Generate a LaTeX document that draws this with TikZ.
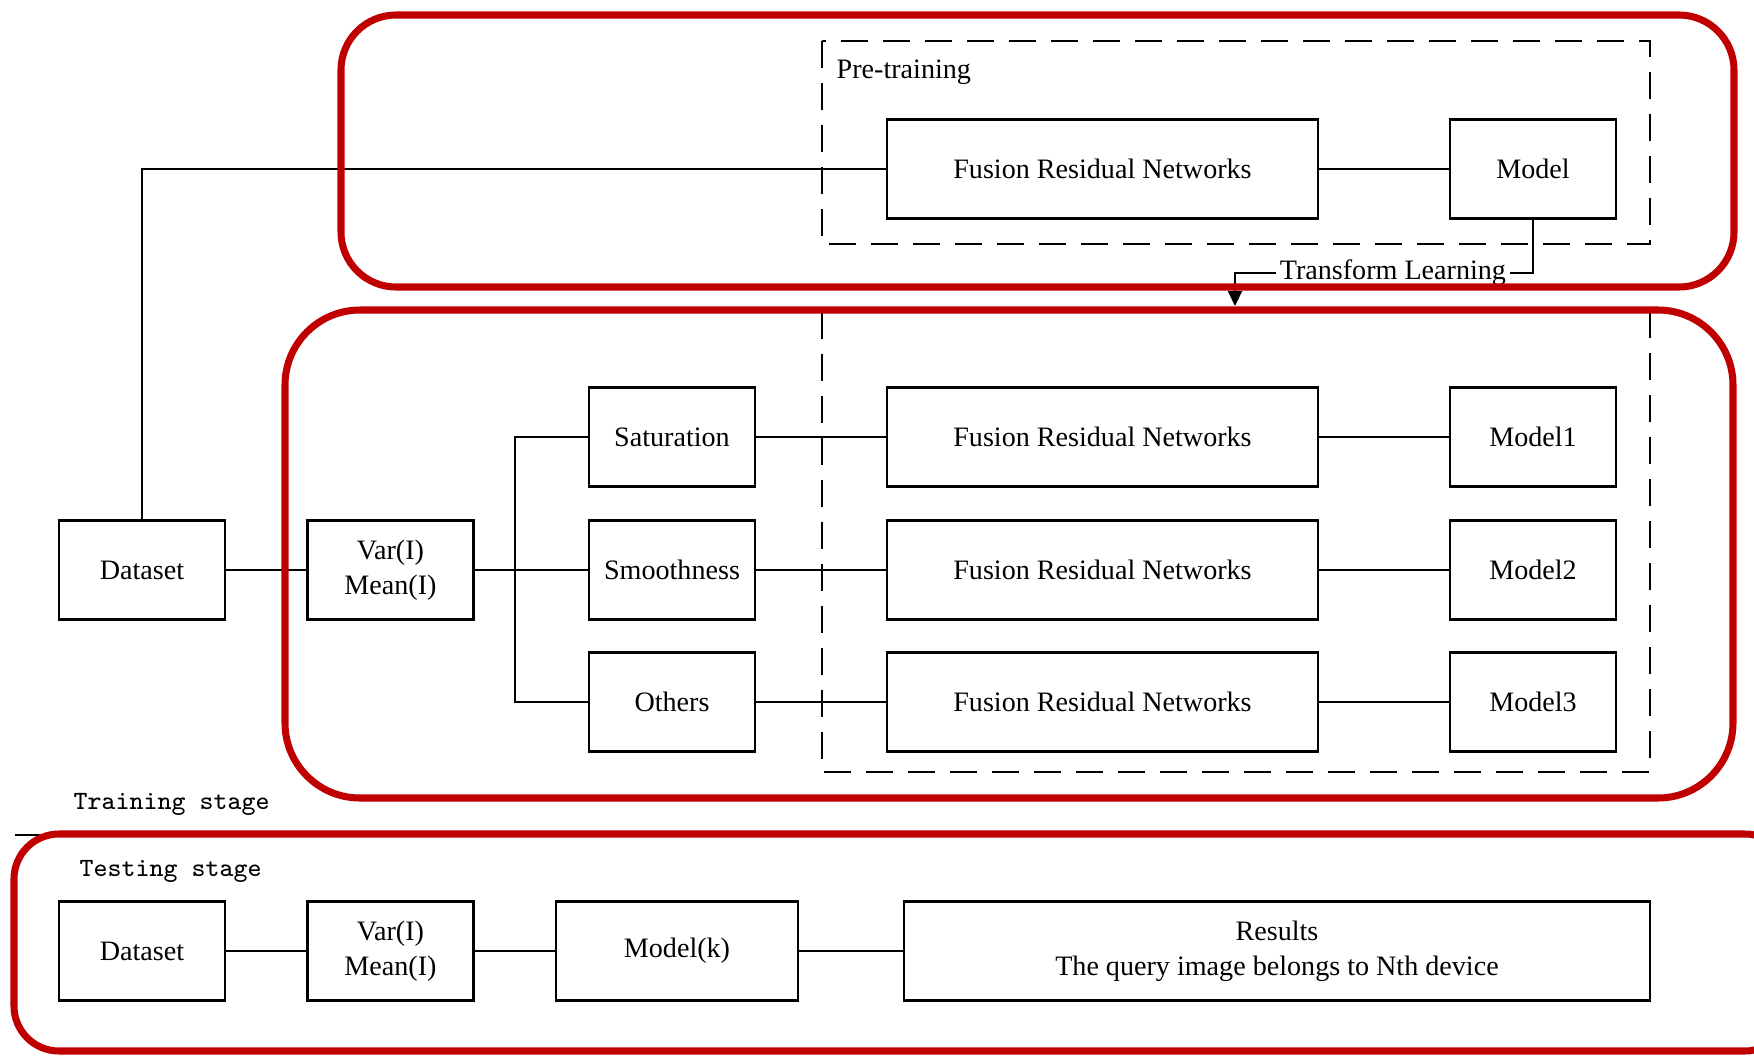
\documentclass[tikz,border=0pt]{standalone}
\usepackage{fontspec}
\setmainfont{Liberation Serif}
\usetikzlibrary{arrows.meta,positioning}
\definecolor{redline}{RGB}{192,0,0}
\tikzset{
  blk/.style={draw,line width=0.6pt,minimum width=16.6mm,minimum height=9.9mm,
    align=center,inner sep=1pt,font=\fontsize{8}{10}\selectfont},
  wide/.style={blk,minimum width=43.1mm},
  link/.style={line width=0.6pt},
  group/.style={draw,dash pattern=on 2.7mm off 1.5mm,line width=0.75pt},
  frame/.style={draw=redline,line width=2pt,rounded corners=#1},
  stage/.style={font=\ttfamily\fontsize{7.5}{9}\selectfont,anchor=base west,inner sep=0pt},
  tag/.style={font=\fontsize{8}{10}\selectfont,inner sep=0pt}
}

\begin{document}
\begin{tikzpicture}
  \useasboundingbox (0,0) rectangle (17.54,-10.56);
  % pre-training
  \draw[group] (8.22,-0.41) rectangle (16.50,-2.44);
  \node[tag,anchor=base west] (pt) at (8.36,-0.78) {Pre-training};
  \node[wide] (f0) at (11.025,-1.69) {Fusion Residual Networks};
  \node[blk] (m0) at (15.33,-1.69) {Model};
  \draw[link] (f0) -- (m0);
  % training
  \node[blk] (ds) at (1.42,-5.70) {Dataset};
  \node[blk] (vm) at (3.905,-5.70) {Var(I)\\Mean(I)};
  \draw[link] (ds.north) |- (f0.west);
  \draw[link] (ds) -- (vm);
  \draw[group] (8.22,-3.12) rectangle (16.50,-7.72);
  \coordinate (br) at (5.15,-5.70);
  \foreach \i/\y/\t in {1/4.37/Saturation,2/5.70/Smoothness,3/7.02/Others} {
    \node[blk] (c\i) at (6.72,-\y) {\t};
    \node[wide] (f\i) at (11.025,-\y) {Fusion Residual Networks};
    \node[blk] (m\i) at (15.33,-\y) {Model\i};
    \draw[link] (br) |- (c\i);
    \draw[link] (c\i) -- (f\i); \draw[link] (f\i) -- (m\i);
  }
  \draw[link] (vm) -- (br);
  \coordinate (tk) at (12.35,-2.73);
  \coordinate (tl) at (12.35,-3.06);
  \draw[link,-{Triangle[length=1.5mm,width=1.4mm]}] (m0.south) |- node[tag,fill=white,pos=0.735,inner xsep=1pt] {Transform Learning} (tk) -- (tl);
  % testing
  \draw[link] (0.15,-8.35) -- (16.67,-8.35);
  \node[stage] (trs) at (0.73,-8.09) {Training stage};
  \node[stage] (tss) at (0.79,-8.76) {Testing stage};
  \node[blk] (ds2) at (1.42,-9.51) {Dataset};
  \node[blk] (vm2) at (3.905,-9.51) {Var(I)\\Mean(I)};
  \node[blk,minimum width=24.2mm] (mk) at (6.77,-9.51) {Model(k)};
  \node[blk,minimum width=74.6mm] (res) at (12.77,-9.51) {Results\\The query image belongs to Nth device};
  \draw[link] (ds2) -- (vm2);
  \draw[link] (vm2) -- (mk);
  \draw[link] (mk) -- (res);
  % red frames
  \draw[frame=5.5mm] (3.41,-0.15) rectangle (17.34,-2.87);
  \draw[frame=7.5mm] (2.85,-3.10) rectangle (17.33,-7.98);
  \draw[frame=4.5mm] (0.14,-8.34) rectangle (17.90,-10.51);
\end{tikzpicture}
\end{document}
